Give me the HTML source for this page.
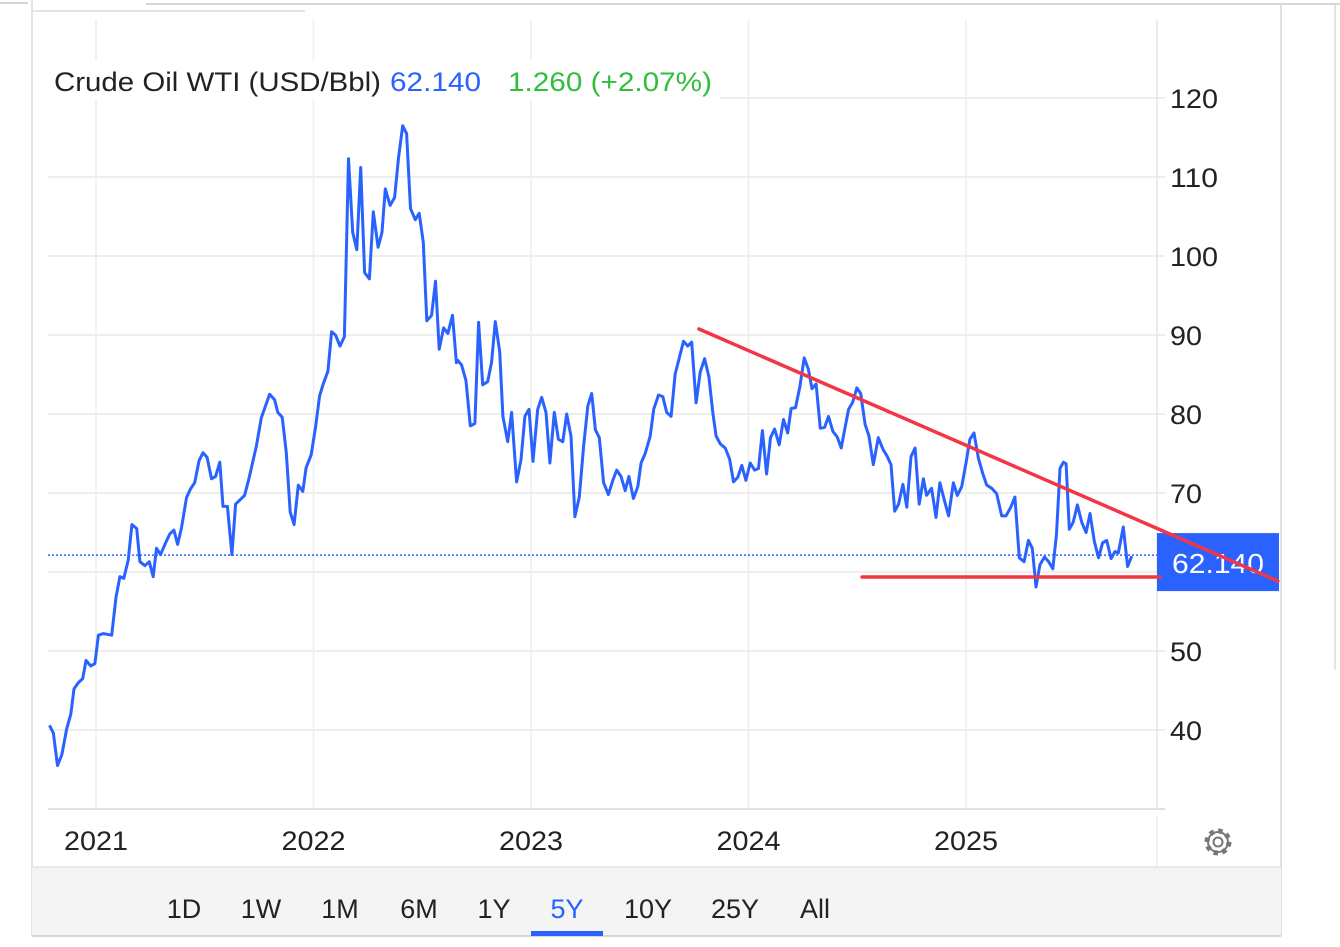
<!DOCTYPE html>
<html><head><meta charset="utf-8"><style>
html,body{margin:0;padding:0;background:#fff;width:1340px;height:947px;overflow:hidden;font-family:"Liberation Sans",sans-serif;}
svg{position:absolute;left:0;top:0}
</style></head><body>
<svg id="chart" width="1340" height="947" viewBox="0 0 1340 947">
  <g>
    <line x1="0" y1="3" x2="28" y2="3" stroke="#d6d6d6" stroke-width="2"/>
    <line x1="146" y1="4" x2="1340" y2="4" stroke="#d6d6d6" stroke-width="2"/>
    <line x1="31" y1="11" x2="305" y2="11" stroke="#dcdcdc" stroke-width="1.5"/>
    <line x1="32" y1="0" x2="32" y2="936" stroke="#dcdcdc" stroke-width="1.5"/>
    <line x1="1281" y1="5" x2="1281" y2="936" stroke="#d6d6d6" stroke-width="1.5"/>
    <line x1="1335" y1="5" x2="1335" y2="670" stroke="#dcdcdc" stroke-width="1.5"/>
    <rect x="32" y="867" width="1249" height="69" fill="#f4f4f4"/>
    <line x1="32" y1="867" x2="1281" y2="867" stroke="#e3e3e3" stroke-width="1.5"/>
    <line x1="32" y1="936" x2="1281" y2="936" stroke="#d6d6d6" stroke-width="2"/>
    <line x1="1157" y1="816" x2="1157" y2="866" stroke="#e6e6e6" stroke-width="1"/>
  </g>
  <g id="grid"></g>
  <g id="series"></g>
  <g id="axes"></g>
  <rect x="34" y="60" width="686" height="40" fill="#fff"/>
  <g font-size="27">
    <text x="54" y="91" fill="#222" textLength="327" lengthAdjust="spacingAndGlyphs">Crude Oil WTI (USD/Bbl)</text>
    <text x="390" y="91" fill="#2962ff" textLength="91" lengthAdjust="spacingAndGlyphs">62.140</text>
    <text x="508" y="91" fill="#2fbf3a" textLength="204" lengthAdjust="spacingAndGlyphs">1.260 (+2.07%)</text>
  </g>
  <g id="ranges"></g>
  <g transform="translate(1218,842)">
    <circle r="11" fill="none" stroke="#777" stroke-width="5" stroke-dasharray="4.3 4.3"/>
    <circle r="10" fill="none" stroke="#777" stroke-width="2"/>
    <circle r="4.5" fill="none" stroke="#777" stroke-width="2"/>
  </g>
</svg>
<script>
const yearTicks = [2021, 2022, 2023, 2024, 2025];
const valueTicks = [40, 50, 60, 70, 80, 90, 100, 110, 120];
const lastPrice = 62.14;
const dates = [2020.786,2020.804,2020.823,2020.843,2020.865,2020.884,2020.899,2020.919,2020.939,2020.954,2020.976,2020.995,2021.011,2021.034,2021.072,2021.092,2021.110,2021.128,2021.148,2021.165,2021.187,2021.202,2021.225,2021.245,2021.263,2021.278,2021.297,2021.317,2021.339,2021.358,2021.375,2021.393,2021.416,2021.434,2021.454,2021.474,2021.492,2021.511,2021.531,2021.550,2021.569,2021.584,2021.604,2021.625,2021.642,2021.661,2021.683,2021.703,2021.737,2021.760,2021.798,2021.821,2021.836,2021.856,2021.875,2021.893,2021.911,2021.930,2021.951,2021.966,2021.989,2022.009,2022.028,2022.046,2022.066,2022.083,2022.101,2022.122,2022.142,2022.161,2022.180,2022.199,2022.217,2022.235,2022.257,2022.275,2022.297,2022.315,2022.330,2022.352,2022.373,2022.391,2022.410,2022.428,2022.446,2022.468,2022.486,2022.505,2022.521,2022.543,2022.561,2022.578,2022.598,2022.618,2022.639,2022.657,2022.663,2022.681,2022.701,2022.721,2022.742,2022.759,2022.778,2022.801,2022.819,2022.836,2022.856,2022.871,2022.893,2022.911,2022.934,2022.954,2022.972,2022.991,2023.009,2023.031,2023.049,2023.069,2023.087,2023.107,2023.126,2023.146,2023.164,2023.184,2023.202,2023.222,2023.242,2023.261,2023.279,2023.296,2023.314,2023.334,2023.356,2023.376,2023.394,2023.414,2023.433,2023.450,2023.471,2023.491,2023.506,2023.525,2023.548,2023.564,2023.586,2023.606,2023.624,2023.644,2023.663,2023.679,2023.701,2023.721,2023.739,2023.759,2023.778,2023.798,2023.818,2023.836,2023.851,2023.871,2023.893,2023.913,2023.931,2023.951,2023.969,2023.988,2024.008,2024.028,2024.046,2024.064,2024.083,2024.101,2024.120,2024.141,2024.161,2024.180,2024.196,2024.216,2024.236,2024.256,2024.275,2024.292,2024.311,2024.330,2024.350,2024.368,2024.388,2024.408,2024.426,2024.444,2024.460,2024.479,2024.498,2024.516,2024.536,2024.554,2024.574,2024.597,2024.619,2024.637,2024.655,2024.672,2024.690,2024.710,2024.728,2024.747,2024.766,2024.785,2024.804,2024.819,2024.842,2024.862,2024.880,2024.900,2024.920,2024.942,2024.960,2024.980,2025.000,2025.018,2025.037,2025.057,2025.077,2025.095,2025.118,2025.141,2025.164,2025.184,2025.206,2025.225,2025.245,2025.267,2025.287,2025.305,2025.322,2025.340,2025.361,2025.380,2025.399,2025.416,2025.432,2025.448,2025.460,2025.475,2025.493,2025.512,2025.532,2025.552,2025.570,2025.590,2025.609,2025.628,2025.647,2025.667,2025.685,2025.700,2025.723,2025.743,2025.762];
const prices = [40.6,39.6,35.5,36.9,40.1,42.0,45.2,46.0,46.5,48.8,48.1,48.4,52.0,52.2,52.0,56.8,59.4,59.2,61.5,66.0,65.5,61.3,60.8,61.3,59.4,63.0,62.2,63.5,64.8,65.3,63.5,65.6,69.4,70.5,71.3,74.1,75.1,74.5,71.8,72.1,73.9,68.3,68.3,62.2,68.6,69.1,69.7,71.8,75.9,79.5,82.5,81.8,80.2,79.6,75.1,67.6,66.0,71.0,70.2,73.2,74.8,78.3,82.3,83.9,85.4,90.4,90.0,88.6,89.8,112.3,103.0,100.8,111.2,97.9,97.1,105.6,101.1,103.0,108.5,106.4,107.4,112.4,116.5,115.5,106.0,104.6,105.4,101.7,91.8,92.5,96.8,88.2,90.9,90.2,92.5,86.5,86.8,86.2,84.2,78.5,78.8,91.6,83.7,84.1,86.6,91.7,87.9,79.7,76.5,80.2,71.4,74.2,79.7,80.6,74.0,80.6,82.1,80.2,73.8,80.2,76.8,76.5,80.0,77.2,67.0,69.5,75.9,81.0,82.6,78.0,77.0,71.3,69.8,71.6,72.9,72.1,70.3,72.1,69.3,70.8,73.8,75.0,77.2,80.6,82.4,82.2,80.2,79.7,85.1,86.8,89.2,88.6,89.1,81.4,85.3,87.0,84.7,80.2,77.2,76.2,75.7,74.3,71.4,72.0,73.5,71.6,73.8,72.9,73.1,77.9,72.4,77.0,78.1,76.1,79.3,77.6,80.7,80.8,83.4,87.1,85.7,83.2,83.8,78.2,78.3,79.7,77.8,77.1,75.7,78.3,80.6,81.5,83.3,82.6,78.7,77.2,73.6,77.0,75.5,74.7,73.6,67.7,68.6,71.1,68.2,74.6,75.7,68.6,71.8,69.7,70.6,66.9,71.3,69.1,67.1,71.3,69.7,70.8,73.8,76.8,77.6,74.4,72.5,71.0,70.6,69.9,67.1,67.1,68.2,69.5,61.8,61.3,64.0,63.0,58.1,60.9,61.9,61.3,60.4,64.8,73.1,73.9,73.7,65.4,66.3,68.5,66.3,65.0,67.4,63.9,61.8,63.7,64.0,61.7,62.6,62.4,65.7,60.7,62.0];
const trendDates = [2023.772, 2026.434];
const trendValues = [90.76, 58.86];
const supportDates = [2024.522, 2025.892];
const supportValues = [59.37, 59.37];
const ranges = ["1D","1W","1M","6M","1Y","5Y","10Y","25Y","All"];
const activeRange = "5Y";

const NS = "http://www.w3.org/2000/svg";
const X = t => 96 + (t - 2021) * 217.5;
const Y = v => 98 + (120 - v) * 7.9;
const PL = 48, PR = 1157, PB = 809, PT = 20;
function mk(tag, attrs, parent){const e=document.createElementNS(NS,tag);for(const k in attrs)e.setAttribute(k,attrs[k]);parent.appendChild(e);return e;}
const grid=document.getElementById('grid'), series=document.getElementById('series'), axes=document.getElementById('axes'), rg=document.getElementById('ranges');

valueTicks.forEach(v=>{
  const l=mk('line',{x1:PL,x2:PR+8,y1:Y(v),y2:Y(v),stroke:'#e8e8e8','stroke-width':1.5},grid);
  
  
  const s=String(v);
  const t=mk('text',{x:1170,y:Y(v)+10,'font-size':27,fill:'#222',textLength:s.length*16,lengthAdjust:'spacingAndGlyphs'},axes);
  t.textContent=s;
  
  
});
yearTicks.forEach(yr=>{
  const l=mk('line',{x1:X(yr),x2:X(yr),y1:PT,y2:PB,stroke:'#eeeeee','stroke-width':1.5},grid);
  
  
  const t=mk('text',{x:X(yr)-32,y:850,'font-size':27,fill:'#222',textLength:64,lengthAdjust:'spacingAndGlyphs'},axes);
  t.textContent=yr;
  
  
});
const rl=mk('line',{x1:PR,x2:PR,y1:PT,y2:PB,stroke:'#e6e6e6','stroke-width':1.5},grid);


const xa=mk('line',{x1:PL,x2:1165,y1:PB,y2:PB,stroke:'#e0e0e0','stroke-width':2},axes);



const dl=mk('line',{x1:PL,x2:PR,y1:Y(lastPrice),y2:Y(lastPrice),stroke:'#2962ff','stroke-width':1.5,'stroke-dasharray':'2 2'},series);



const pts=dates.map((d,i)=>X(d).toFixed(1)+','+Y(prices[i]).toFixed(1)).join(' ');
const pl=mk('polyline',{points:pts,fill:'none',stroke:'#2962ff','stroke-width':3,'stroke-linejoin':'round'},series);



const box=mk('rect',{x:PR,y:Y(lastPrice)-22,width:122,height:58,fill:'#2962ff'},axes);


const bt=mk('text',{x:1172,y:Y(lastPrice)+18,'font-size':28,fill:'#fff',textLength:92,lengthAdjust:'spacingAndGlyphs'},axes);
bt.textContent=lastPrice.toFixed(3);



const tl=mk('line',{x1:X(trendDates[0]),y1:Y(trendValues[0]),x2:X(trendDates[1]),y2:Y(trendValues[1]),stroke:'#f23645','stroke-width':3.5,'stroke-linecap':'round'},axes);


const sl=mk('line',{x1:X(supportDates[0]),y1:Y(supportValues[0]),x2:X(supportDates[1]),y2:Y(supportValues[1]),stroke:'#f23645','stroke-width':3.5,'stroke-linecap':'round'},axes);



const rx=[184,261,340,419,494,567,648,735,815];
ranges.forEach((r,i)=>{
  const t=mk('text',{x:rx[i],y:918,'font-size':27,fill:r===activeRange?'#2962ff':'#222','text-anchor':'middle'},rg);
  t.textContent=r;
  
  
  if(r===activeRange){
    const u=mk('rect',{x:rx[i]-36,y:931,width:72,height:5,fill:'#2962ff'},rg);
    
    
  }
});
</script>
</body></html>
